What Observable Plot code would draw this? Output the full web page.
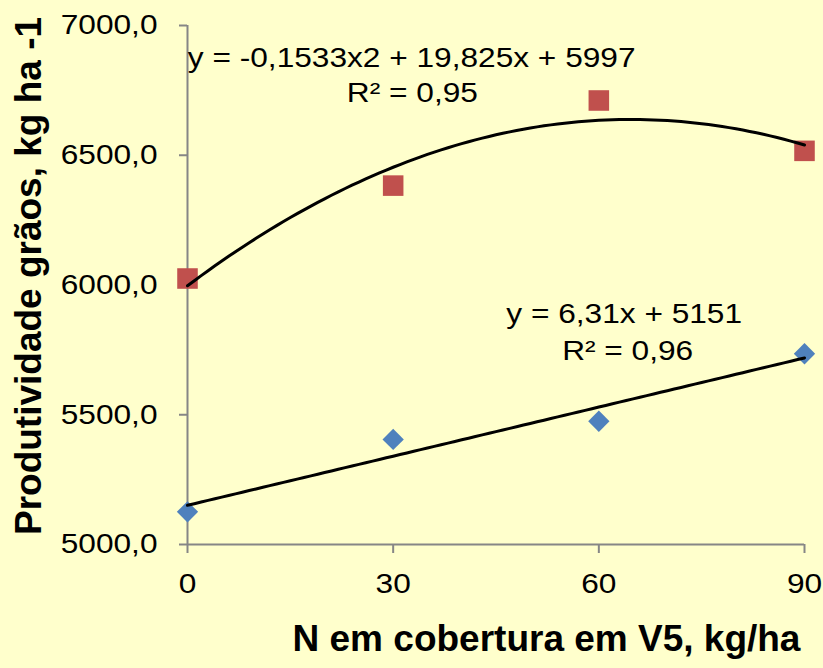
<!DOCTYPE html>
<html>
<head>
<meta charset="utf-8">
<script src="https://cdn.jsdelivr.net/npm/d3@7"></script>
<script src="https://cdn.jsdelivr.net/npm/@observablehq/plot@0.6"></script>
<style>
  html, body { margin: 0; padding: 0; background: #FFFFCC; }
  #chart { width: 823px; height: 668px; }
</style>
</head>
<body>
<div id="chart"></div>
<script>
// ---- data ----
const doses = [0, 30, 60, 90];                       // N em cobertura (kg/ha)
const redValues = [6025, 6383, 6711, 6517];          // série vermelha (quadrados)
const blueValues = [5126, 5405, 5475, 5735];         // série azul (losangos)
const yTicks = [5000, 5500, 6000, 6500, 7000];
const xTicks = [0, 30, 60, 90];
// trendline coefficients as printed on the chart
const quadCoef = [-0.1533, 19.825, 5997];            // a x² + b x + c
const linCoef = [6.31, 5151];                        // m x + q
const quadEq = "y = -0,1533x2 + 19,825x + 5997";
const quadR2 = "R² = 0,95";
const linEq = "y = 6,31x + 5151";
const linR2 = "R² = 0,96";
const xTitle = "N em cobertura em V5, kg/ha";
const yTitle = "Produtividade grãos, kg ha -1";

const red = doses.map((x, i) => ({x, y: redValues[i]}));
const blue = doses.map((x, i) => ({x, y: blueValues[i]}));
const xs = d3.range(0, 90.001, 1);
const quadLine = xs.map(x => ({x, y: quadCoef[0] * x * x + quadCoef[1] * x + quadCoef[2]}));
const linLine = xs.map(x => ({x, y: linCoef[0] * x + linCoef[1]}));

const axisGray = "#868686";
const font = "'Liberation Sans', Arial, sans-serif";

const svg = Plot.plot({
  width: 823,
  height: 668,
  marginLeft: 187,
  marginRight: 19,
  marginTop: 25,
  marginBottom: 124,
  style: {background: "#FFFFCC", fontFamily: font, color: "black", overflow: "visible"},
  x: {domain: [0, 90]},
  y: {domain: [5000, 7000]},
  marks: [
    Plot.ruleX([0], {stroke: axisGray, strokeWidth: 2}),
    Plot.ruleY([5000], {stroke: axisGray, strokeWidth: 2}),
    Plot.axisY({ticks: yTicks, tickSize: 8, tickPadding: 22, fontSize: 28, label: null,
      stroke: axisGray, strokeWidth: 2, fill: "black",
      tickFormat: d => d.toFixed(1).replace(".", ",")}),
    Plot.axisX({ticks: xTicks, tickSize: 9, tickPadding: 20, fontSize: 28, label: null,
      stroke: axisGray, strokeWidth: 2, fill: "black",
      tickFormat: d => String(d)}),
    Plot.dot(red, {x: "x", y: "y", symbol: "square", r: 11.6, fill: "#C0504D", stroke: "none"}),
    Plot.dot(blue, {x: "x", y: "y", symbol: "diamond2", r: 9.6, fill: "#4F81BD", stroke: "none"}),
    Plot.line(quadLine, {x: "x", y: "y", stroke: "black", strokeWidth: 3}),
    Plot.line(linLine, {x: "x", y: "y", stroke: "black", strokeWidth: 3}),
    Plot.text([quadEq], {x: 32.7, y: 6915, text: d => d, fontSize: 28, lineAnchor: "top", fill: "black"}),
    Plot.text([quadR2], {x: 32.8, y: 6780, text: d => d, fontSize: 28, lineAnchor: "top", fill: "black"}),
    Plot.text([linEq], {x: 63.7, y: 5929, text: d => d, fontSize: 28, lineAnchor: "top", fill: "black"}),
    Plot.text([linR2], {x: 64.2, y: 5786, text: d => d, fontSize: 28, lineAnchor: "top", fill: "black"}),
    Plot.text([xTitle], {frameAnchor: "bottom", textAnchor: "middle", dx: 50.5, dy: 106, text: d => d, fontSize: 37, fontWeight: "bold", fill: "black"}),
    Plot.text([yTitle], {frameAnchor: "left", textAnchor: "middle", dx: -158.8, dy: -9, rotate: -90, text: d => d, fontSize: 37, fontWeight: "bold", fill: "black"})
  ]
});
document.getElementById("chart").appendChild(svg);

// the reference's regular text is slightly wider than Arial: stretch glyphs a little
svg.querySelectorAll("text").forEach(t => {
  const w = getComputedStyle(t).fontWeight;
  if (w === "bold" || Number(w) >= 600) return;
  const len = t.getComputedTextLength();
  if (len > 0) {
    t.setAttribute("textLength", (len * 1.13).toFixed(1));
    t.setAttribute("lengthAdjust", "spacingAndGlyphs");
  }
});
</script>
</body>
</html>
